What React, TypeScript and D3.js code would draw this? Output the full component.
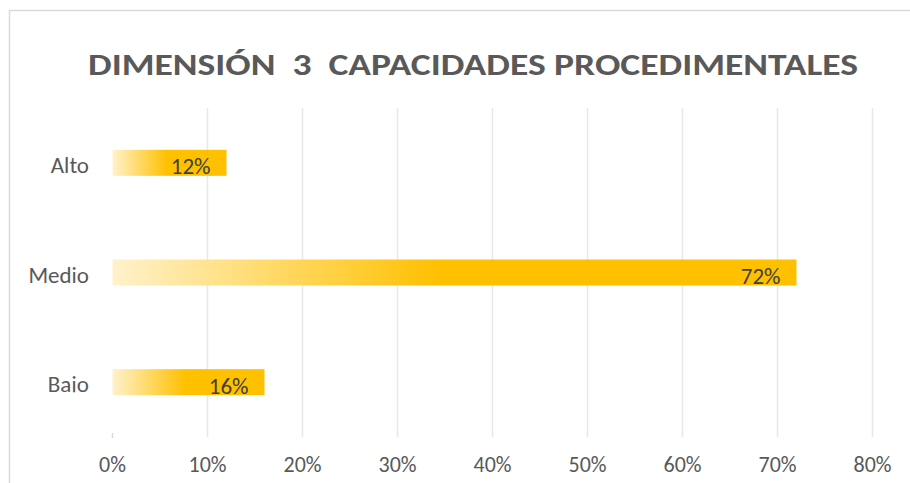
import React, { useRef, useEffect } from "react";
import * as d3 from "d3";

const categories = ["Alto", "Medio", "Bajo"];
const values = [0.12, 0.72, 0.16];
const xTicks = [0, 0.1, 0.2, 0.3, 0.4, 0.5, 0.6, 0.7, 0.8];
const title = "DIMENSIÓN  3  CAPACIDADES PROCEDIMENTALES";

const width = 910;
const height = 483;
const font = "Carlito, Calibri, Lato, 'Liberation Sans', sans-serif";

const App: React.FC = () => {
  const svgRef = useRef<SVGSVGElement | null>(null);

  useEffect(() => {
    const svg = d3.select(svgRef.current);
    svg.selectAll("*").remove();

    const plot = { left: 112.5, right: 872.5, top: 108, bottom: 437 };
    const barH = 26;

    const x = d3.scaleLinear().domain([0, 0.8]).range([plot.left, plot.right]);
    const y = d3
      .scaleBand<string>()
      .domain(categories)
      .range([plot.top, plot.bottom]);

    // gradient fill for the bars
    const defs = svg.append("defs");
    const grad = defs
      .append("linearGradient")
      .attr("id", "barGrad")
      .attr("x1", "0%")
      .attr("x2", "100%")
      .attr("y1", "0%")
      .attr("y2", "0%");
    grad.append("stop").attr("offset", "0%").attr("stop-color", "#fff2cc");
    grad.append("stop").attr("offset", "48%").attr("stop-color", "#ffc000");
    grad.append("stop").attr("offset", "100%").attr("stop-color", "#ffc000");

    // chart border (clipped by the page on right and bottom)
    svg
      .append("rect")
      .attr("x", 9.5)
      .attr("y", 10.5)
      .attr("width", 940)
      .attr("height", 500)
      .attr("fill", "white")
      .attr("stroke", "#d9d9d9")
      .attr("stroke-width", 1.5);

    // title
    svg
      .append("text")
      .attr("x", 473)
      .attr("y", 75)
      .attr("text-anchor", "middle")
      .attr("font-family", font)
      .attr("font-weight", "bold")
      .attr("font-size", 31)
      .attr("fill", "#595959")
      .attr("textLength", 770)
      .attr("lengthAdjust", "spacingAndGlyphs")
      .style("white-space", "pre")
      .text(title);

    // gridlines
    svg
      .append("g")
      .selectAll("line")
      .data(xTicks.filter((t) => t > 0))
      .join("line")
      .attr("x1", (d) => x(d))
      .attr("x2", (d) => x(d))
      .attr("y1", plot.top)
      .attr("y2", plot.bottom)
      .attr("stroke", "#e8e8e8")
      .attr("stroke-width", 1.5);

    // small tick at 0%
    svg
      .append("line")
      .attr("x1", x(0))
      .attr("x2", x(0))
      .attr("y1", plot.bottom - 4)
      .attr("y2", plot.bottom + 1)
      .attr("stroke", "#d9d9d9")
      .attr("stroke-width", 1.5);

    // x tick labels
    svg
      .append("g")
      .selectAll("text")
      .data(xTicks)
      .join("text")
      .attr("x", (d) => x(d))
      .attr("y", 472)
      .attr("text-anchor", "middle")
      .attr("font-family", font)
      .attr("font-size", 22)
      .attr("fill", "#595959")
      .text((d) => d3.format(".0%")(d));

    // bars
    const rows = categories.map((c, i) => ({ c, v: values[i] }));
    svg
      .append("g")
      .selectAll("rect")
      .data(rows)
      .join("rect")
      .attr("x", x(0))
      .attr("y", (d) => y(d.c)! + (y.bandwidth() - barH) / 2)
      .attr("width", (d) => x(d.v) - x(0))
      .attr("height", barH)
      .attr("fill", "url(#barGrad)");

    // value labels
    svg
      .append("g")
      .selectAll("text")
      .data(rows)
      .join("text")
      .attr("x", (d) => x(d.v) - 16)
      .attr("y", (d) => y(d.c)! + y.bandwidth() / 2 + 11.5)
      .attr("text-anchor", "end")
      .attr("font-family", font)
      .attr("font-size", 23)
      .attr("fill", "#404040")
      .text((d) => d3.format(".0%")(d.v));

    // category labels (descender of "Bajo" is cut in the original)
    defs
      .append("clipPath")
      .attr("id", "catClip")
      .append("rect")
      .attr("x", 0)
      .attr("y", 0)
      .attr("width", plot.left)
      .attr("height", y("Bajo")! + y.bandwidth() / 2 + 10);

    svg
      .append("g")
      .attr("clip-path", "url(#catClip)")
      .selectAll("text")
      .data(categories)
      .join("text")
      .attr("x", 89)
      .attr("y", (d) => y(d)! + y.bandwidth() / 2 + 10)
      .attr("text-anchor", "end")
      .attr("font-family", font)
      .attr("font-size", 23)
      .attr("fill", "#595959")
      .text((d) => d);
  }, []);

  return (
    <svg
      ref={svgRef}
      width={width}
      height={height}
      style={{ position: "absolute", left: 0, top: 0 }}
    ></svg>
  );
};

export default App;
